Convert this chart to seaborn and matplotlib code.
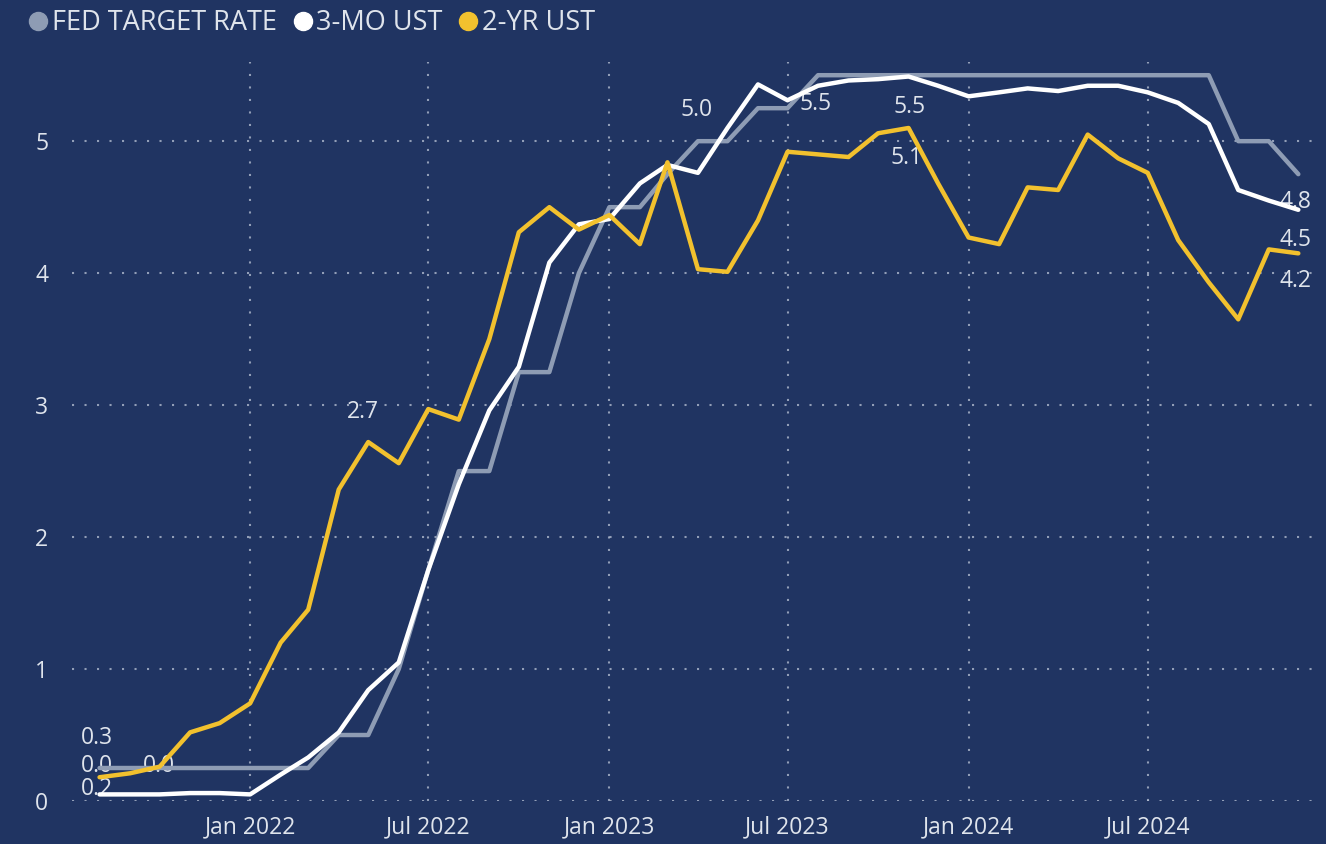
import pandas as pd
import matplotlib
matplotlib.use("Agg")
import matplotlib.pyplot as plt
import matplotlib.dates as mdates
from matplotlib.lines import Line2D
import seaborn as sns


# monthly points, Aug 2021 .. Dec 2024
months = pd.date_range("2021-08-01", "2024-12-01", freq="MS")

fed_target = [
    0.25, 0.25, 0.25, 0.25, 0.25,
    0.25, 0.25, 0.25, 0.5, 0.5, 1.0, 1.75, 2.5, 2.5, 3.25, 3.25, 4.0,
    4.5, 4.5, 4.75, 5.0, 5.0, 5.25, 5.25, 5.5, 5.5, 5.5, 5.5, 5.5,
    5.5, 5.5, 5.5, 5.5, 5.5, 5.5, 5.5, 5.5, 5.5, 5.0, 5.0, 4.75,
]

ust_3mo = [
    0.05, 0.05, 0.05, 0.06, 0.06,
    0.05, 0.20, 0.33, 0.52, 0.84, 1.05, 1.75, 2.40, 2.96, 3.29, 4.08, 4.37,
    4.41, 4.68, 4.82, 4.76, 5.10, 5.43, 5.31, 5.42, 5.46, 5.47, 5.49, 5.42,
    5.34, 5.37, 5.40, 5.38, 5.42, 5.42, 5.37, 5.29, 5.13, 4.63, 4.55, 4.48,
]

ust_2yr = [
    0.18, 0.21, 0.26, 0.52, 0.59,
    0.74, 1.20, 1.45, 2.36, 2.72, 2.56, 2.97, 2.89, 3.50, 4.31, 4.50, 4.33,
    4.44, 4.22, 4.84, 4.03, 4.01, 4.40, 4.92, 4.90, 4.88, 5.06, 5.10, 4.68,
    4.27, 4.22, 4.65, 4.63, 5.05, 4.87, 4.76, 4.25, 3.93, 3.65, 4.18, 4.15,
]

series_names = ["FED TARGET RATE", "3-MO UST", "2-YR UST"]
series_colors = ["#8e9cb4", "#ffffff", "#f2c12e"]

# data labels: (text, series, month, dx px, dy px)
point_labels = [
    ("0.3", "FED TARGET RATE", "2021-08-01", -3, 30),
    ("0.0", "3-MO UST", "2021-08-01", -3, 28),
    ("0.2", "2-YR UST", "2021-08-01", -3, -12),
    ("0.0", "3-MO UST", "2021-10-01", -1, 28),
    ("2.7", "2-YR UST", "2022-05-01", -5, 30),
    ("5.0", "FED TARGET RATE", "2023-04-01", -1, 31),
    ("5.5", "FED TARGET RATE", "2023-08-01", -2, -29),
    ("5.5", "3-MO UST", "2023-11-01", 1, -30),
    ("5.1", "2-YR UST", "2023-11-01", -2, -30),
    ("4.8", "FED TARGET RATE", "2024-12-01", -3, -28),
    ("4.5", "3-MO UST", "2024-12-01", -3, -30),
    ("4.2", "2-YR UST", "2024-12-01", -3, -28),
]


BG = "#203462"
TXT = "#dfe4ec"
GRID = "#b9c2d4"


df = pd.DataFrame({
    "date": months,
    "FED TARGET RATE": fed_target,
    "3-MO UST": ust_3mo,
    "2-YR UST": ust_2yr,
})

long_df = df.melt(id_vars="date", var_name="series", value_name="rate")


sns.set_theme(style="dark")
plt.rcParams["font.family"] = ["Open Sans", "DejaVu Sans"]


fig = plt.figure(figsize=(13.26, 8.44), dpi=100, facecolor=BG)

# axes box in pixels: left 72, right 1318, top 62, bottom 801
W, H = 1326, 844
ax = fig.add_axes([72 / W, (H - 801) / H, (1318 - 72) / W, (801 - 62) / H])
ax.set_facecolor(BG)


sns.lineplot(
    data=long_df,
    x="date",
    y="rate",
    hue="series",
    hue_order=series_names,
    palette=series_colors,
    linewidth=3.2,
    legend=False,
    ax=ax,
    zorder=3,
)


# labels sit under the lines, like in the source
px = 72 / 100
for text, name, month, dx, dy in point_labels:
    val = df.loc[df["date"] == pd.Timestamp(month), name].iloc[0]
    ax.annotate(
        text,
        (pd.Timestamp(month), val),
        xytext=(dx * px, dy * px),
        textcoords="offset points",
        ha="center",
        va="center",
        color=TXT,
        fontsize=16.5,
        zorder=1,
    )


ax.set_ylim(0, 5.6)
ax.set_xlim(
    months[0] - pd.Timedelta(days=28),
    months[-1] + pd.Timedelta(days=20),
)

ax.set_yticks([0, 1, 2, 3, 4, 5])
ax.xaxis.set_major_locator(mdates.MonthLocator(bymonth=[1, 7]))
ax.xaxis.set_major_formatter(mdates.DateFormatter("%b %Y"))

ax.tick_params(axis="x", length=0, pad=10, labelsize=16.5, colors=TXT)
ax.tick_params(axis="y", length=0, pad=17, labelsize=16.5, colors=TXT)

ax.set_xlabel("")
ax.set_ylabel("")

ax.grid(True, color=GRID, linestyle=(0, (1, 5)), linewidth=1.5, alpha=0.75)
ax.set_axisbelow(True)

for s in ax.spines.values():
    s.set_visible(False)


# legend at the top left
handles = [
    Line2D([], [], marker="o", linestyle="", markersize=13,
           markerfacecolor=c, markeredgecolor=c)
    for c in series_colors
]

fig.legend(
    handles,
    series_names,
    loc="center left",
    bbox_to_anchor=(14 / W, 1 - 23 / H),
    ncol=3,
    frameon=False,
    handletextpad=0.0,
    columnspacing=0.45,
    handlelength=1.0,
    fontsize=19.5,
    labelcolor=TXT,
    borderaxespad=0,
)


fig.savefig("out.png", dpi=100, facecolor=BG)
plt.close(fig)
